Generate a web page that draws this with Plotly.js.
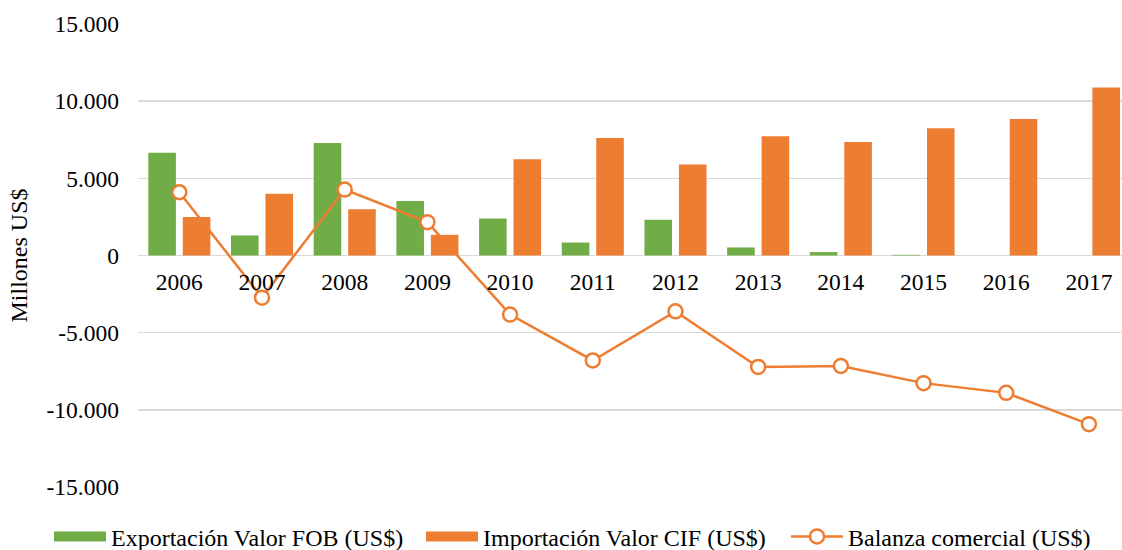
<!DOCTYPE html>
<html>
<head>
<meta charset="utf-8">
<script src="https://cdn.plot.ly/plotly-3.0.1.min.js"></script>
<style>
html,body{margin:0;padding:0;background:#fff;}
#chart{width:1122px;height:550px;}
</style>
</head>
<body>
<div id="chart"></div>
<script>
const years = ['2006','2007','2008','2009','2010','2011','2012','2013','2014','2015','2016','2017'];
const exportacionFOB = [6650, 1300, 7290, 3530, 2400, 840, 2320, 520, 220, 40, 0, 0];
const importacionCIF = [2490, 4000, 2990, 1340, 6230, 7620, 5890, 7730, 7360, 8250, 8850, 10880];
const balanzaComercial = [4100, -2730, 4270, 2160, -3830, -6800, -3620, -7220, -7160, -8270, -8900, -10930];
const yTickVals = [-15000, -10000, -5000, 0, 5000, 10000, 15000];
const yTickText = ['-15.000', '-10.000', '-5.000', '0', '5.000', '10.000', '15.000'];
const seriesNames = ['Exportación Valor FOB (US$)', 'Importación Valor CIF (US$)', 'Balanza comercial (US$)'];

const GREEN = '#70AD47', ORANGE = '#ED7D31';
const FONT = '"Liberation Serif", "Times New Roman", serif';

const traces = [
  {type:'bar', x:years, y:exportacionFOB, name:seriesNames[0], marker:{color:GREEN}, showlegend:false, hoverinfo:'y'},
  {type:'bar', x:years, y:importacionCIF, name:seriesNames[1], marker:{color:ORANGE}, showlegend:false, hoverinfo:'y'},
  {type:'scatter', mode:'lines+markers', x:years, y:balanzaComercial, name:seriesNames[2],
   line:{color:ORANGE, width:2.5}, marker:{symbol:'circle', size:14, color:'#FFFFFF', line:{color:ORANGE, width:2.5}},
   cliponaxis:false, showlegend:false},
  // legend entries (one legend per entry so each can sit where the reference has it)
  {type:'scatter', mode:'lines', x:[null], y:[null], name:seriesNames[0], line:{color:GREEN, width:12}, legend:'legend'},
  {type:'scatter', mode:'lines', x:[null], y:[null], name:seriesNames[1], line:{color:ORANGE, width:12}, legend:'legend2'},
  {type:'scatter', mode:'lines+markers', x:[null], y:[null], name:seriesNames[2], line:{color:ORANGE, width:2.5},
   marker:{symbol:'circle', size:14, color:'#FFFFFF', line:{color:ORANGE, width:2.5}}, legend:'legend3'}
];

function legendAt(xpx) {
  return {orientation:'h', xref:'container', yref:'container', x:xpx/1122, xanchor:'left', y:0.024, yanchor:'middle',
          font:{family:FONT, size:24, color:'#000'}, itemwidth:52, bgcolor:'rgba(0,0,0,0)'};
}

const layout = {
  width:1122, height:550,
  margin:{l:138, r:0, t:24, b:63},
  paper_bgcolor:'#FFFFFF', plot_bgcolor:'#FFFFFF',
  font:{family:FONT, size:23, color:'#000000'},
  barmode:'group', bargap:0.166, bargroupgap:0.2,
  showlegend:true,
  legend:legendAt(49),
  legend2:legendAt(421),
  legend3:legendAt(786),
  xaxis:{type:'category', range:[-0.5, 11.4], anchor:'free', position:0.5, showgrid:false, showline:false,
         ticks:'', tickfont:{family:FONT, size:23.5, color:'#000'}, ticklabelstandoff:10, fixedrange:true},
  yaxis:{range:[-15000, 15000], tickvals:yTickVals, ticktext:yTickText, showgrid:true, gridcolor:'#D9D9D9', gridwidth:1.5,
         zeroline:true, zerolinecolor:'#D9D9D9', zerolinewidth:1.5, showline:false, ticks:'',
         tickfont:{family:FONT, size:23.5, color:'#000'}, ticklabelstandoff:18,
         title:{text:'Millones US$', font:{family:FONT, size:24, color:'#000'}, standoff:12}, fixedrange:true}
};

Plotly.newPlot('chart', traces, layout, {displayModeBar:false, staticPlot:true});
</script>
</body>
</html>
